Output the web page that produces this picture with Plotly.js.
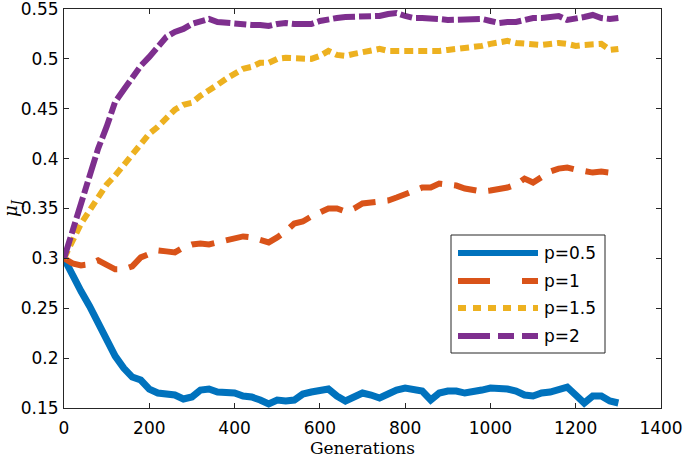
<!DOCTYPE html>
<html><head><meta charset="utf-8">
<script src="https://cdn.plot.ly/plotly-3.0.1.min.js"></script>
<style>html,body{margin:0;padding:0;background:#fff;} #chart{width:685px;height:458px;}</style>
</head><body><div id="chart"></div>
<script>
const generations = [0,20,40,60,80,100,120,140,160,180,200,220,240,260,280,300,320,340,360,380,400,420,440,460,480,500,520,540,560,580,600,620,640,660,680,700,720,740,760,780,800,820,840,860,880,900,920,940,960,980,1000,1020,1040,1060,1080,1100,1120,1140,1160,1180,1200,1220,1240,1260,1280,1300];

const seriesNames = ["p=0.5", "p=1", "p=1.5", "p=2"];

const p05 = [0.300,0.282,0.267,0.252,0.236,0.219,0.202,0.190,0.181,0.178,0.169,0.165,0.164,0.163,0.159,0.161,0.168,0.169,0.166,0.165,0.165,0.162,0.161,0.158,0.154,0.158,0.157,0.158,0.164,0.166,0.168,0.169,0.162,0.157,0.161,0.165,0.163,0.160,0.164,0.168,0.170,0.169,0.167,0.158,0.165,0.167,0.167,0.165,0.166,0.168,0.170,0.170,0.169,0.167,0.163,0.162,0.165,0.166,0.168,0.171,0.163,0.155,0.162,0.162,0.157,0.155];

const p1 = [0.300,0.295,0.293,0.294,0.298,0.294,0.289,0.289,0.292,0.301,0.304,0.308,0.307,0.306,0.311,0.314,0.315,0.314,0.316,0.318,0.320,0.322,0.321,0.318,0.316,0.321,0.327,0.335,0.337,0.342,0.346,0.350,0.350,0.347,0.350,0.355,0.356,0.357,0.358,0.361,0.364,0.367,0.371,0.371,0.375,0.374,0.373,0.370,0.368,0.367,0.368,0.369,0.371,0.374,0.380,0.376,0.381,0.387,0.390,0.391,0.389,0.388,0.386,0.387,0.386,0.387];

const p15 = [0.300,0.319,0.335,0.348,0.362,0.374,0.383,0.393,0.404,0.415,0.425,0.432,0.441,0.449,0.454,0.456,0.463,0.468,0.474,0.480,0.485,0.490,0.492,0.496,0.496,0.500,0.501,0.501,0.500,0.500,0.503,0.508,0.504,0.503,0.505,0.507,0.509,0.510,0.508,0.508,0.508,0.508,0.507,0.508,0.508,0.509,0.510,0.510,0.511,0.513,0.515,0.516,0.518,0.516,0.515,0.515,0.514,0.515,0.516,0.515,0.513,0.514,0.515,0.515,0.509,0.510];

const p2 = [0.300,0.327,0.354,0.383,0.410,0.432,0.457,0.469,0.481,0.493,0.502,0.512,0.522,0.527,0.530,0.535,0.538,0.540,0.537,0.536,0.535,0.535,0.534,0.534,0.533,0.535,0.536,0.535,0.535,0.535,0.538,0.540,0.541,0.542,0.542,0.542,0.543,0.543,0.545,0.546,0.543,0.541,0.541,0.541,0.540,0.539,0.539,0.540,0.540,0.540,0.538,0.536,0.537,0.537,0.539,0.541,0.541,0.542,0.543,0.539,0.540,0.542,0.544,0.541,0.540,0.541];

const xTicks = [0,200,400,600,800,1000,1200,1400];
const xTickText = ["0","200","400","600","800","1000","1200","1400"];
const yTicks = [0.15,0.2,0.25,0.3,0.35,0.4,0.45,0.5,0.55];
const yTickText = ["0.15","0.2","0.25","0.3","0.35","0.4","0.45","0.5","0.55"];

const colors = ["#0072BD","#D95319","#EDB120","#7E2F8E"];
const plotDash = ["solid","23px,12px","9px,5px","22px,4px,12px,4px"];
const legendDash = ["solid","32px,32px","8px,7px","32px,8px,16px,8px"];
const plotWidth = [7,6,6,6];
const values = [p05, p1, p15, p2];

const traces = values.map((v, i) => ({
  x: generations, y: v, type: "scatter", mode: "lines", name: seriesNames[i],
  line: {color: colors[i], width: plotWidth[i], dash: plotDash[i]}, showlegend: false
}));

// manual legend (pixel geometry -> paper coords)
const L = 64, R = 661, T = 9, B = 408;
const fx = px => (px - L) / (R - L);
const fy = py => (B - py) / (B - T);
const shapes = [{type:"rect", xref:"paper", yref:"paper", x0:fx(451), x1:fx(605), y0:fy(353), y1:fy(235),
  line:{color:"#262626", width:1}, fillcolor:"#ffffff", layer:"above"}];
const annotations = [];
const rowY = [253, 281, 308, 336];
seriesNames.forEach((n, i) => {
  shapes.push({type:"line", xref:"paper", yref:"paper", x0:fx(458), x1:fx(538), y0:fy(rowY[i]), y1:fy(rowY[i]),
    line:{color:colors[i], width:6, dash:legendDash[i]}, layer:"above"});
  annotations.push({xref:"paper", yref:"paper", x:fx(542), y:fy(rowY[i]), xanchor:"left", yanchor:"middle",
    text:n, showarrow:false, font:{family:"DejaVu Sans", size:17, color:"#000"}});
});

const axisCommon = {showline:true, mirror:"ticks", linecolor:"#262626", linewidth:1, ticks:"inside", ticklen:5,
  tickcolor:"#262626", showgrid:false, zeroline:false, automargin:false, ticklabeloverflow:"allow",
  tickfont:{family:"DejaVu Sans", size:17, color:"#000"}};

const layout = {
  width:685, height:458, margin:{l:L, r:685-R, t:T, b:458-B},
  paper_bgcolor:"#fff", plot_bgcolor:"#fff", showlegend:false,
  xaxis: Object.assign({}, axisCommon, {range:[0,1400.0001], tickvals:xTicks, ticktext:xTickText, ticklabelstandoff:5,
    title:{text:"Generations", font:{family:"DejaVu Serif", size:17, color:"#000"}, standoff:7}}),
  yaxis: Object.assign({}, axisCommon, {range:[0.1499999,0.5500001], tickvals:yTicks, ticktext:yTickText, ticklabelstandoff:1,
    title:{text:"<i>μ</i><sub><i>J</i></sub>", font:{family:"DejaVu Serif", size:18, color:"#000"}, standoff:4}}),
  shapes: shapes, annotations: annotations
};

Plotly.newPlot("chart", traces, layout, {displayModeBar:false, staticPlot:true});
</script>
</body></html>
